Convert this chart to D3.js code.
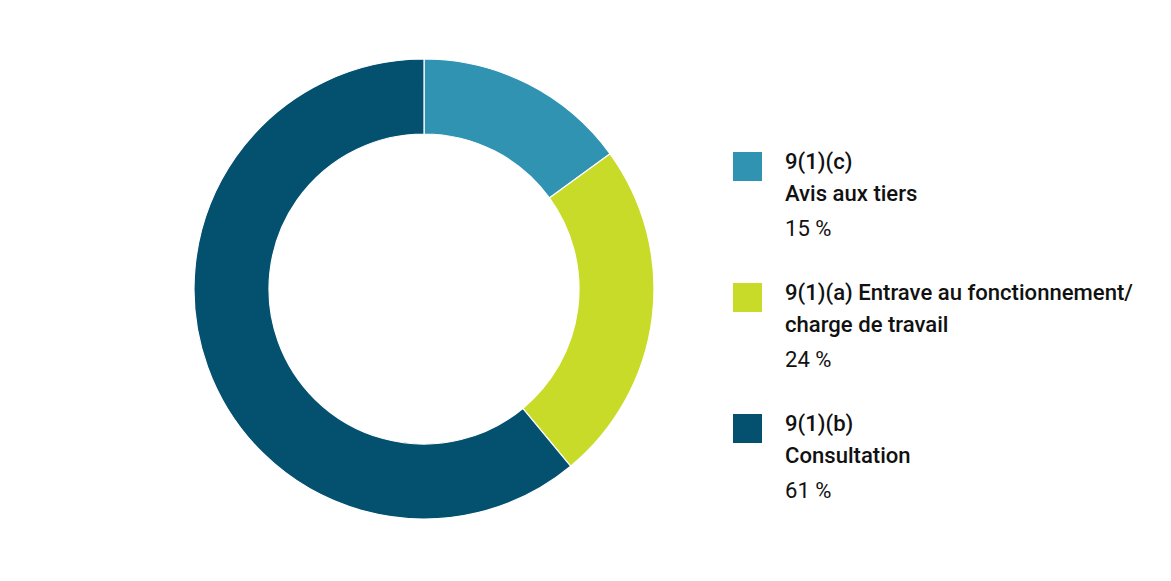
<!DOCTYPE html>
<html><head><meta charset="utf-8">
<script src="https://cdn.jsdelivr.net/npm/d3@7"></script>
<style>body{margin:0;background:#fff}</style>
</head><body>
<svg id="c" width="1171" height="581"></svg>
<script>
const codes = ["9(1)(c)", "9(1)(a) Entrave au fonctionnement/", "9(1)(b)"];
const descs = ["Avis aux tiers", "charge de travail", "Consultation"];
const values = [15, 24, 61];
const colors = ["#3093b2", "#c9db29", "#04506f"];

const svg = d3.select("#c");
const cx = 424, cy = 289, R = 230, r = 155;
const pie = d3.pie().sort(null).value(d => d)(values);
const arc = d3.arc().innerRadius(r).outerRadius(R);
svg.append("g").attr("transform", `translate(${cx},${cy})`)
  .selectAll("path").data(pie).join("path")
  .attr("d", arc).attr("fill", (d, i) => colors[i])
  .attr("stroke", "#fff").attr("stroke-width", 1.2);

const font = "Roboto, 'Liberation Sans', sans-serif";
const tops = [152, 283, 414];
const lg = svg.append("g");
const texts = [];
values.forEach((v, i) => {
  const y = tops[i];
  lg.append("rect").attr("x", 733).attr("y", y).attr("width", 29).attr("height", 29).attr("fill", colors[i]);
  const t = lg.append("g").attr("class", "tg").attr("font-family", font).attr("fill", "#111")
    .attr("transform", `translate(785,0)`);
  texts.push(t);
  t.append("text").attr("x", 0).attr("y", y + 17).attr("font-size", 22).attr("font-weight", 500).attr("class", i === 1 ? "long" : "").text(codes[i]);
  t.append("text").attr("x", 0).attr("y", y + 49).attr("font-size", 22).attr("font-weight", 500).text(descs[i]);
  t.append("text").attr("x", 0).attr("y", y + 84).attr("font-size", 22).attr("font-weight", 400).text(v + " %");
});
const w = svg.select("text.long").node().getComputedTextLength();
const k = 348 / w;
texts.forEach(t => t.attr("transform", `translate(785,0) scale(${k},1)`));
</script>
</body></html>
